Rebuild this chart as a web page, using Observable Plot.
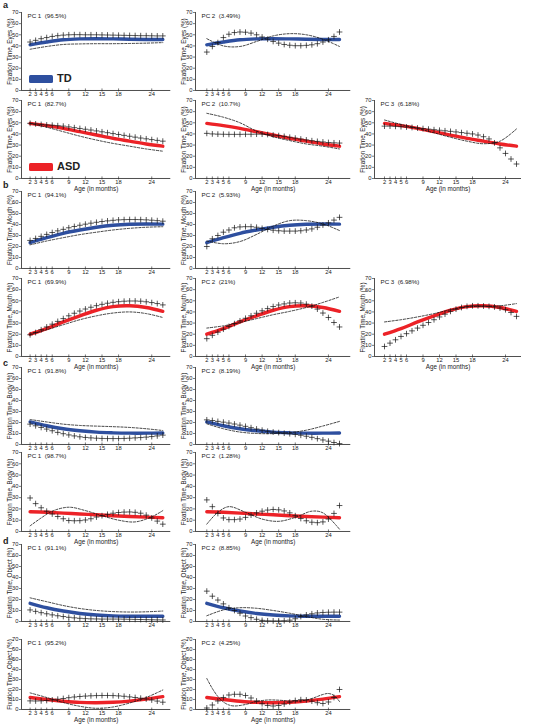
<!DOCTYPE html>
<html><head><meta charset="utf-8">
<script src="https://cdn.jsdelivr.net/npm/d3@7"></script>
<script src="https://cdn.jsdelivr.net/npm/@observablehq/plot@0.6"></script>
<style>
body{margin:0;background:#fff;}
#c{position:relative;width:533px;height:727px;overflow:hidden;font-family:"Liberation Sans",Arial,Helvetica,sans-serif;color:#222;background:#fff;}
.lt{position:absolute;font-weight:bold;font-size:9px;line-height:9px;}
.lg{position:absolute;width:24px;height:8px;border-radius:1.5px;}
.lgt{position:absolute;font-weight:bold;font-size:11px;line-height:11px;}
</style></head><body><div id="c"></div>
<script>
// ---------- data ----------
const ages = [2,3,4,5,6,7,8,9,10,11,12,13,14,15,16,17,18,19,20,21,22,23,24,25,26];
const knots = [2,5,8,11,14,17,20,23,26];
const xTicks = [2,3,4,5,6,9,12,15,18,24];
const yTicks = [0,10,20,30,40,50,60,70];
const ageLabel = "Age (in months)";
const groups = ["TD","ASD"];
const letters = ["a","b","c","d"];
const yLabels = ["Fixation Time, Eyes (%)","Fixation Time, Mouth (%)","Fixation Time, Body (%)","Fixation Time, Object (%)"];

// Eyes
const eyesTDMean = [41,43.5,45.5,46.3,46.5,46.3,46,45.8,45.7];
const eyesTD1Plus = [43.5,45,46.5,47.5,48.5,49.2,49.7,50,50.1,50.1,50,50,50,49.9,49.8,49.7,49.6,49.5,49.4,49.3,49.2,49.2,49.1,49,49];
const eyesTD1Dash = [37,39.5,41.3,41.8,42,42,42.2,42.5,43];
const eyesTD2Plus = [34.5,39.5,43,47.5,50.5,52,52.5,52.3,51.5,50,48,46,44,42.5,41.3,40.6,40.2,40.2,40.5,41,42,43.5,45.5,48.5,52.5];
const eyesTD2Dash = [46.5,40,39.5,44,49,51,50,46,39.5];
const eyesASDMean = [49.5,47.5,45,42,39,36,33.5,31,29];
const eyesASD1Plus = [49.5,49,48.5,48,47.8,47.4,47,46.3,45.6,44.9,44.2,43.5,42.7,41.9,41.1,40.3,39.5,38.7,37.9,37.1,36.3,35.6,34.9,34.2,33.5];
const eyesASD1Dash = [49.5,46,42,38,34.5,31.5,29,26.5,24.5];
const eyesASD2Plus = [40.5,40,39.8,39.7,39.6,39.6,39.6,39.7,39.7,39.8,39.8,39.5,39,38.5,37.8,37,36.2,35.4,34.6,33.9,33.3,32.8,32.3,32,31.8];
const eyesASD2Dash = [58.5,55,50,42.5,37.5,34,31,29,26.5];
const eyesASD3Plus = [47,47,46.8,46.5,46.2,45.8,45.3,44.8,44.3,43.8,43.3,42.8,42.3,41.8,41.2,40.6,40,39,37.5,35.5,32,27.5,22.5,17.5,13];
const eyesASD3Dash = [52.5,48.5,45,41,37,33.5,31.2,33.5,44.5];

// Mouth
const mouthTDMean = [23.5,28,32,35,37.5,39.3,40.2,40.5,40.3];
const mouthTD1Plus = [25.5,27.3,29.2,31,32.7,34.2,35.6,37,38.2,39.3,40.3,41.2,42,42.7,43.3,43.8,44.2,44.4,44.5,44.5,44.4,44.2,43.9,43.5,43];
const mouthTD1Dash = [21.5,25,28,30.8,33,35,36.5,37.5,38];
const mouthTD2Plus = [20,27,30,33,35,37,37.8,38,38,37.5,36.5,35.5,34.8,34.3,34,34,34,34.3,35,36,37.5,39.5,41.5,44,46.5];
const mouthTD2Dash = [25,22.5,24.5,31,38.5,43.5,43.5,40.5,34.5];
const mouthASDMean = [20,25,31,36.5,41.5,44.8,45.5,44,40.5];
const mouthASD1Plus = [19.5,21.5,24,26.5,29,31.5,34,36.5,38.8,40.8,42.6,44.2,45.6,46.8,47.8,48.6,49.2,49.6,49.8,49.8,49.6,49.1,48.4,47.5,46.3];
const mouthASD1Dash = [20,24,28.5,33,36.5,39,40,38.5,35];
const mouthASD2Plus = [16,19,21.8,24.5,27,29.5,32,34.3,36.5,38.8,41,43,44.8,46.2,47.2,48,48.2,48,47,45.2,42.5,39,35,30.5,26.5];
const mouthASD2Dash = [25.5,27.5,30.5,34,37.5,40.5,44,48.5,53.5];
const mouthASD3Plus = [9,12,15,18,20.5,23,25.5,28,30.5,33,35.5,38,40.5,42.5,44,45,45.5,45.5,45.3,45,44.5,43.5,42,39.5,36];
const mouthASD3Dash = [31,33,35.5,38.5,42,44.5,45,45.5,47.5];

// Body
const bodyTDMean = [20.5,17,14.3,12.5,11.2,10.6,10.3,10.3,10.5];
const bodyTD1Plus = [18.5,17,15.5,14,12.5,11,9.8,8.7,7.8,7,6.4,6,5.7,5.5,5.4,5.4,5.4,5.5,5.7,6,6.3,6.7,7.2,7.8,8.5];
const bodyTD1Dash = [22.7,20.5,18.5,17.3,16.7,16.2,15.5,14.3,12.7];
const bodyTD2Plus = [22.4,21.8,21,20.3,19.5,18.6,17.6,16.5,15.3,14.1,13,12,11.3,10.8,10.3,9.8,9.2,8.4,7.5,6.5,5.3,4.1,3,1.8,0.8];
const bodyTD2Dash = [18.8,14.3,11.3,10,9.9,10.8,13,16.8,21];
const bodyASDMean = [17.5,17,16.3,15.5,14.8,14,13.3,12.7,12.2];
const bodyASD1Plus = [29.7,24.7,21,18,15.5,13.3,11.3,9.7,9.5,9.6,10.2,11.3,12.8,14,15.2,16.2,16.8,17.2,17.3,17,16.2,14.5,12,9.2,6.5];
const bodyASD1DashK = [2,4,6,9,12,15,18,21,24,26];
const bodyASD1Dash = [5,12,18,21.5,18.5,14,10,8.5,13,18.5];
const bodyASD2Plus = [28,22,16,12,10.5,10.5,11,12.5,14.5,16.5,18,19,19.5,19.2,18.2,16.5,14,11.5,9.5,8.2,7.8,8.5,11,16,23];
const bodyASD2DashK = [2,4,6,9,12,15,18,21,23,26];
const bodyASD2Dash = [6.5,17,22,17,11,9,12.5,18,16.5,2];

// Object
const objTDMean = [16.5,12.5,9.5,7.3,5.9,5.1,4.8,4.7,4.8];
const objTD1Plus = [10.5,9.2,8,7,6,5.2,4.5,3.8,3.3,2.9,2.6,2.4,2.3,2.2,2.2,2.2,2.2,2.1,2,1.9,1.8,1.7,1.6,1.5,1.4];
const objTD1Dash = [21.5,18,14.5,11.8,10,9,8.6,8.8,9.5];
const objTD2Plus = [27.6,23,19.5,16,12.5,10,7.5,5,3.5,2,1,0.6,0.5,0.5,0.7,1.2,2.5,4.5,6,7,7.8,8.2,8.4,8.5,8.5];
const objTD2Dash = [5.2,10.5,12.5,12,10,7.5,4.5,2,1.3];
const objASDMean = [12,10,8.3,7.1,6.8,7.2,8.4,10.3,12.8];
const objASD1Plus = [8.6,8.5,8.6,9,9.6,10.3,11,11.8,12.5,13,13.4,13.7,13.9,14,14,13.9,13.6,13.2,12.6,12,11.3,10.5,9.5,8.4,7.3];
const objASD1Dash = [16.6,12,7,3.2,1.2,2.5,6.5,12,19.5];
const objASD2Plus = [1.5,4.5,8.5,12,14.5,15.2,15.2,14,11.5,8.5,5.8,4,3.5,4,5.5,7.3,9,9.8,9.5,8.3,6.8,6,7.5,12,20];
const objASD2DashK = [2,3,4,5,6,7,9,11,13,15,17,19,21,23,24,25,26];
const objASD2Dash = [31,21,13,7.5,4.5,3.5,5,8,9.5,9.3,8.5,8.5,11,15,16,14,8];

const colors = {TD:"#2e4f9f", ASD:"#ec2227"};

// ---------- layout ----------
const cols = [
  {left:20.7, m2:29.3, s:5.53, right:170},
  {left:194.7, m2:206, s:5.53, right:350},
  {left:374, m2:384, s:5.5, right:521}
];
const rows = [
  {top:12,bottom:90},{top:100,bottom:178},{top:191,bottom:268},{top:278,bottom:356},
  {top:367,bottom:444},{top:452,bottom:531},{top:544,bottom:621},{top:639,bottom:709}
];

const pts = (xs, ys) => xs.map((m,i) => ({m, v: ys[i]}));

const panels = [
  {row:0,col:0,g:"TD",area:0,pc:"PC 1\u00a0\u00a0(96.5%)",mean:eyesTDMean,plus:eyesTD1Plus,dash:eyesTD1Dash},
  {row:0,col:1,g:"TD",area:0,pc:"PC 2\u00a0\u00a0(3.49%)",mean:eyesTDMean,plus:eyesTD2Plus,dash:eyesTD2Dash},
  {row:1,col:0,g:"ASD",area:0,pc:"PC 1\u00a0\u00a0(82.7%)",mean:eyesASDMean,plus:eyesASD1Plus,dash:eyesASD1Dash},
  {row:1,col:1,g:"ASD",area:0,pc:"PC 2\u00a0\u00a0(10.7%)",mean:eyesASDMean,plus:eyesASD2Plus,dash:eyesASD2Dash},
  {row:1,col:2,g:"ASD",area:0,pc:"PC 3\u00a0\u00a0(6.18%)",mean:eyesASDMean,plus:eyesASD3Plus,dash:eyesASD3Dash},
  {row:2,col:0,g:"TD",area:1,pc:"PC 1\u00a0\u00a0(94.1%)",mean:mouthTDMean,plus:mouthTD1Plus,dash:mouthTD1Dash},
  {row:2,col:1,g:"TD",area:1,pc:"PC 2\u00a0\u00a0(5.93%)",mean:mouthTDMean,plus:mouthTD2Plus,dash:mouthTD2Dash},
  {row:3,col:0,g:"ASD",area:1,pc:"PC 1\u00a0\u00a0(69.9%)",mean:mouthASDMean,plus:mouthASD1Plus,dash:mouthASD1Dash},
  {row:3,col:1,g:"ASD",area:1,pc:"PC 2\u00a0\u00a0(21%)",mean:mouthASDMean,plus:mouthASD2Plus,dash:mouthASD2Dash},
  {row:3,col:2,g:"ASD",area:1,pc:"PC 3\u00a0\u00a0(6.98%)",mean:mouthASDMean,plus:mouthASD3Plus,dash:mouthASD3Dash},
  {row:4,col:0,g:"TD",area:2,pc:"PC 1\u00a0\u00a0(91.8%)",mean:bodyTDMean,plus:bodyTD1Plus,dash:bodyTD1Dash},
  {row:4,col:1,g:"TD",area:2,pc:"PC 2\u00a0\u00a0(8.19%)",mean:bodyTDMean,plus:bodyTD2Plus,dash:bodyTD2Dash},
  {row:5,col:0,g:"ASD",area:2,pc:"PC 1\u00a0\u00a0(98.7%)",mean:bodyASDMean,plus:bodyASD1Plus,dash:bodyASD1Dash,dashK:bodyASD1DashK},
  {row:5,col:1,g:"ASD",area:2,pc:"PC 2\u00a0\u00a0(1.28%)",mean:bodyASDMean,plus:bodyASD2Plus,dash:bodyASD2Dash,dashK:bodyASD2DashK},
  {row:6,col:0,g:"TD",area:3,pc:"PC 1\u00a0\u00a0(91.1%)",mean:objTDMean,plus:objTD1Plus,dash:objTD1Dash},
  {row:6,col:1,g:"TD",area:3,pc:"PC 2\u00a0\u00a0(8.85%)",mean:objTDMean,plus:objTD2Plus,dash:objTD2Dash},
  {row:7,col:0,g:"ASD",area:3,pc:"PC 1\u00a0\u00a0(95.2%)",mean:objASDMean,plus:objASD1Plus,dash:objASD1Dash},
  {row:7,col:1,g:"ASD",area:3,pc:"PC 2\u00a0\u00a0(4.25%)",mean:objASDMean,plus:objASD2Plus,dash:objASD2Dash,dashK:objASD2DashK}
];

const container = document.getElementById("c");
const ink = "#222";

function panel(p){
  const c = cols[p.col], r = rows[p.row];
  const ML = 24, MR = 6, MT = 4, MB = 16;
  const x0 = 2 - (c.m2 - c.left)/c.s, x1 = 2 + (c.right - c.m2)/c.s;
  const w = c.right - c.left, h = r.bottom - r.top;
  const marks = [
    Plot.line(pts(knots, p.mean), {x:"m", y:"v", curve:"catmull-rom", stroke:colors[p.g], strokeWidth:3.4}),
    Plot.line(pts(p.dashK || knots, p.dash), {x:"m", y:"v", curve:"catmull-rom", stroke:"#111", strokeWidth:0.8, strokeDasharray:"2.2,1.6"}),
    Plot.dot(pts(ages, p.plus), {x:"m", y:"v", symbol:"plus", r:2, stroke:"#111", strokeWidth:0.7}),
    Plot.ruleY([0], {stroke:ink, strokeWidth:0.8}),
    Plot.ruleX([x0], {stroke:ink, strokeWidth:0.8}),
    Plot.ruleX(xTicks, {x:d=>d, y1:0, y2:1.4, stroke:ink, strokeWidth:0.6}),
    Plot.axisX({ticks:xTicks, tickSize:1.5, tickPadding:0.3, fontSize:5.8, label:null, strokeWidth:0.6, fill:ink}),
    Plot.axisY({ticks:yTicks, tickSize:2, tickPadding:1, fontSize:5.8, label:null, strokeWidth:0.6, fill:ink}),
    Plot.text([p.pc], {frameAnchor:"top-left", dx:6, dy:1.5, lineAnchor:"top", textAnchor:"start", fontSize:6.2, fill:ink}),
    Plot.text([yLabels[p.area]], {frameAnchor:"left", rotate:-90, dx:-12, textAnchor:"middle", lineAnchor:"middle", fontSize:6.3, fill:ink})
  ];
  if (p.g === "ASD") marks.push(Plot.text([ageLabel], {frameAnchor:"bottom", dy:12.8, lineAnchor:"bottom", textAnchor:"middle", fontSize:6.3, fill:ink}));
  const svg = Plot.plot({
    width: w + ML + MR, height: h + MT + MB,
    marginLeft: ML, marginRight: MR, marginTop: MT, marginBottom: MB,
    x: {domain:[x0, x1]}, y: {domain:[0, 70]},
    style: {fontFamily:"'Liberation Sans', Arial, Helvetica, sans-serif", background:"transparent", overflow:"visible"},
    marks
  });
  svg.style.position = "absolute";
  svg.style.left = (c.left - ML) + "px";
  svg.style.top = (r.top - MT) + "px";
  svg.style.maxWidth = "none";
  container.appendChild(svg);
}
panels.forEach(panel);

// panel letters
const letterY = [1, 181, 359, 537];
letters.forEach((t,i) => {
  const d = document.createElement("div");
  d.className = "lt"; d.textContent = t;
  d.style.left = "3px"; d.style.top = letterY[i] + "px";
  container.appendChild(d);
});

// legend (TD in first row, ASD in second)
const legendY = [74.7, 162.7];
groups.forEach((g,i) => {
  const b = document.createElement("div");
  b.className = "lg"; b.style.background = colors[g];
  b.style.left = "29px"; b.style.top = legendY[i] + "px";
  container.appendChild(b);
  const t = document.createElement("div");
  t.className = "lgt"; t.textContent = g;
  t.style.left = "57px"; t.style.top = (legendY[i] - 1.5) + "px";
  container.appendChild(t);
});
</script></body></html>
